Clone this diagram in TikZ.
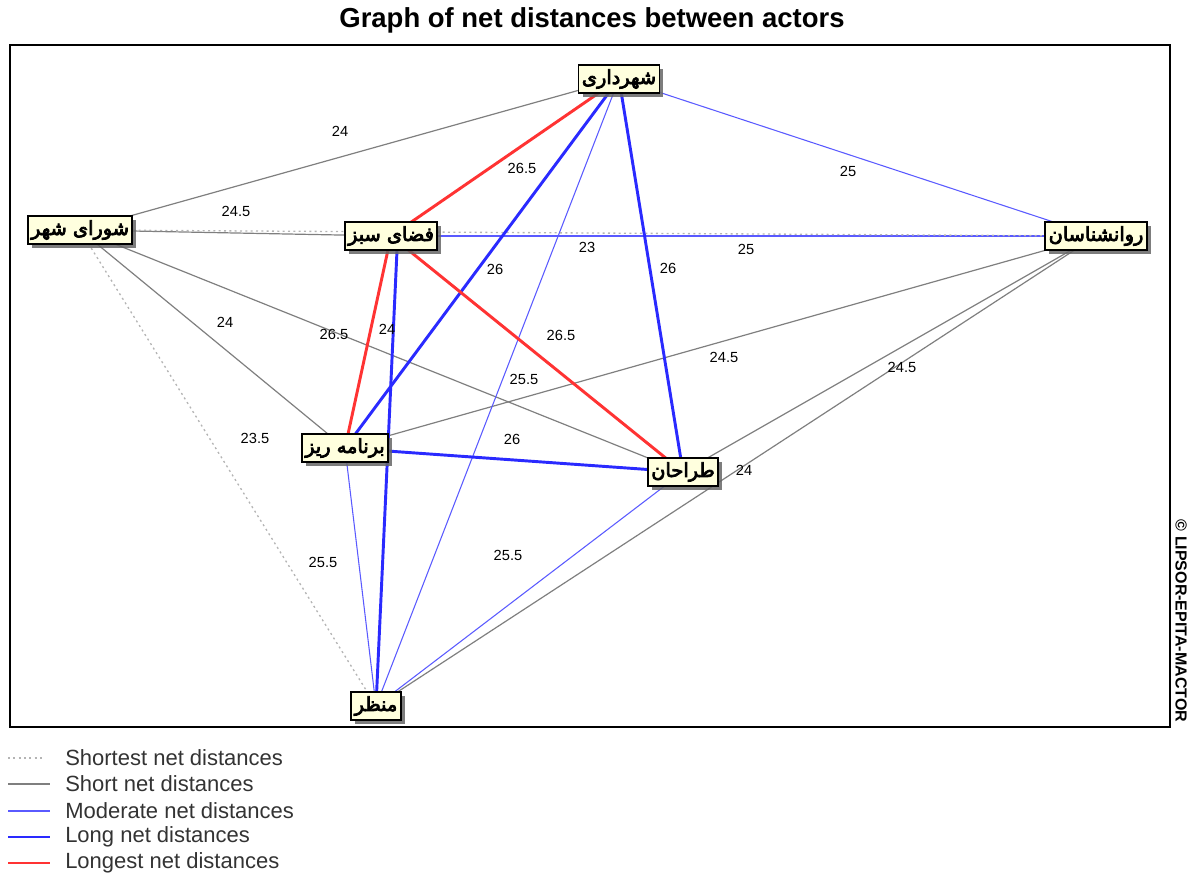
\documentclass[tikz,border=0pt]{standalone}
\usepackage{fontspec}
\setmainfont{Liberation Sans}
\newfontfamily\arabicfont[Script=Arabic,FakeBold=4]{DejaVu Sans}
\TeXXeTstate=1
\usetikzlibrary{shadows,backgrounds}
\definecolor{nodefill}{HTML}{FFFFDE}
\definecolor{grayline}{HTML}{7F7F7F}
\definecolor{dotline}{HTML}{B4B4B4}
\definecolor{modblue}{HTML}{5A5AFF}
\definecolor{longblue}{HTML}{2A2AFF}
\definecolor{redline}{HTML}{FF3333}
\tikzset{
  actor/.style={draw=black, line width=1.4pt, fill=nodefill,
    drop shadow={shadow xshift=3pt, shadow yshift=-3pt, fill=black!60, opacity=0.85},
    inner xsep=2.5pt, inner ysep=1pt, minimum height=21pt,
    font=\arabicfont\fontsize{14.5}{17}\selectfont},
  shortest/.style={draw=dotline, line width=1pt, dash pattern=on 1.5pt off 2.5pt},
  short/.style={draw=grayline, line width=0.9pt},
  moderate/.style={draw=modblue, line width=0.8pt},
  long/.style={draw=longblue, line width=2.2pt},
  longest/.style={draw=redline, line width=2.2pt},
  lbl/.style={font=\fontsize{11}{13}\selectfont, inner sep=0pt},
  legtext/.style={font=\fontsize{16.5}{18}\selectfont, anchor=west, inner sep=0pt, text=black!80}
}
\begin{document}
\begin{tikzpicture}[x=0.75pt,y=-0.75pt]
\useasboundingbox (0,0) rectangle (1192,877);

% title
\node[font=\bfseries\fontsize{20.6}{24}\selectfont] (title) at (592,20) {Graph of net distances between actors};
% frame
\draw[line width=1.2pt] (10,45) rectangle (1170,727);
\node[rotate=-90, font=\bfseries\fontsize{12}{14}\selectfont, inner sep=0pt] (copy) at (1181,621) {© LIPSOR-EPITA-MACTOR};

% actors
\node[actor] (shahrdari) at (619,79) {\beginR شهرداری\endR};
\node[actor] (shora) at (80,230) {\beginR شورای شهر\endR};
\node[actor] (fazasabz) at (391,236) {\beginR فضای سبز\endR};
\node[actor] (ravan) at (1096,236) {\beginR روانشناسان\endR};
\node[actor] (barname) at (345,448) {\beginR برنامه ریز\endR};
\node[actor] (tarrahan) at (683,472) {\beginR طراحان\endR};
\node[actor] (manzar) at (376,706) {\beginR منظر\endR};

\begin{pgfonlayer}{background}
% short (gray)
\draw[short] (shora.center) -- (shahrdari.center);
\draw[short] (shora.center) -- (fazasabz.center);
\draw[short] (shora.center) -- (barname.center);
\draw[short] (shora.center) -- (tarrahan.center);
\draw[short] (ravan.center) -- (barname.center);
\draw[short] (ravan.center) -- (tarrahan.center);
\draw[short] (ravan.center) -- (manzar.center);
% moderate (thin blue)
\draw[moderate] (shahrdari.center) -- (ravan.center);
\draw[moderate] (shahrdari.center) -- (manzar.center);
\draw[moderate] (fazasabz.center) -- (ravan.center);
\draw[moderate] (barname.center) -- (manzar.center);
\draw[moderate] (tarrahan.center) -- (manzar.center);
% shortest (dotted)
\draw[shortest] (shora.center) -- (ravan.center);
\draw[shortest] (shora.center) -- (manzar.center);
% long (thick blue)
\draw[long] (shahrdari.center) -- (barname.center);
\draw[long] (shahrdari.center) -- (tarrahan.center);
\draw[long] ([xshift=5pt]fazasabz.center) -- (manzar.center);
\draw[long] (barname.center) -- (tarrahan.center);
% longest (red)
\draw[longest] (shahrdari.center) -- (fazasabz.center);
\draw[longest] (fazasabz.center) -- (barname.center);
\draw[longest] (fazasabz.center) -- (tarrahan.center);
\end{pgfonlayer}

% edge labels
\node[lbl] (l1) at (340,131) {24};
\node[lbl] (l2) at (522,168) {26.5};
\node[lbl] (l3) at (848,171) {25};
\node[lbl] (l4) at (236,211) {24.5};
\node[lbl] (l5) at (587,247) {23};
\node[lbl] (l6) at (746,249) {25};
\node[lbl] (l7) at (495,269) {26};
\node[lbl] (l8) at (668,268) {26};
\node[lbl] (l9) at (225,322) {24};
\node[lbl] (l10) at (334,334) {26.5};
\node[lbl] (l11) at (387,329) {24};
\node[lbl] (l12) at (561,335) {26.5};
\node[lbl] (l13) at (724,357) {24.5};
\node[lbl] (l14) at (902,367) {24.5};
\node[lbl] (l15) at (524,379) {25.5};
\node[lbl] (l16) at (255,438) {23.5};
\node[lbl] (l17) at (512,439) {26};
\node[lbl] (l18) at (744,470) {24};
\node[lbl] (l19) at (508,555) {25.5};
\node[lbl] (l20) at (323,562) {25.5};

% legend
\draw[shortest] (8,758) -- (43,758);
\node[legtext] (g1) at (65,758) {Shortest net distances};
\draw[short] (8,784) -- (50,784);
\node[legtext] (g2) at (65,784) {Short net distances};
\draw[moderate] (8,811) -- (50,811);
\node[legtext] (g3) at (65,811) {Moderate net distances};
\draw[long] (8,837) -- (50,837);
\node[legtext] (g4) at (65,837) {Long net distances};
\draw[longest] (8,863) -- (50,863);
\node[legtext] (g5) at (65,863) {Longest net distances};
\end{tikzpicture}
\end{document}
